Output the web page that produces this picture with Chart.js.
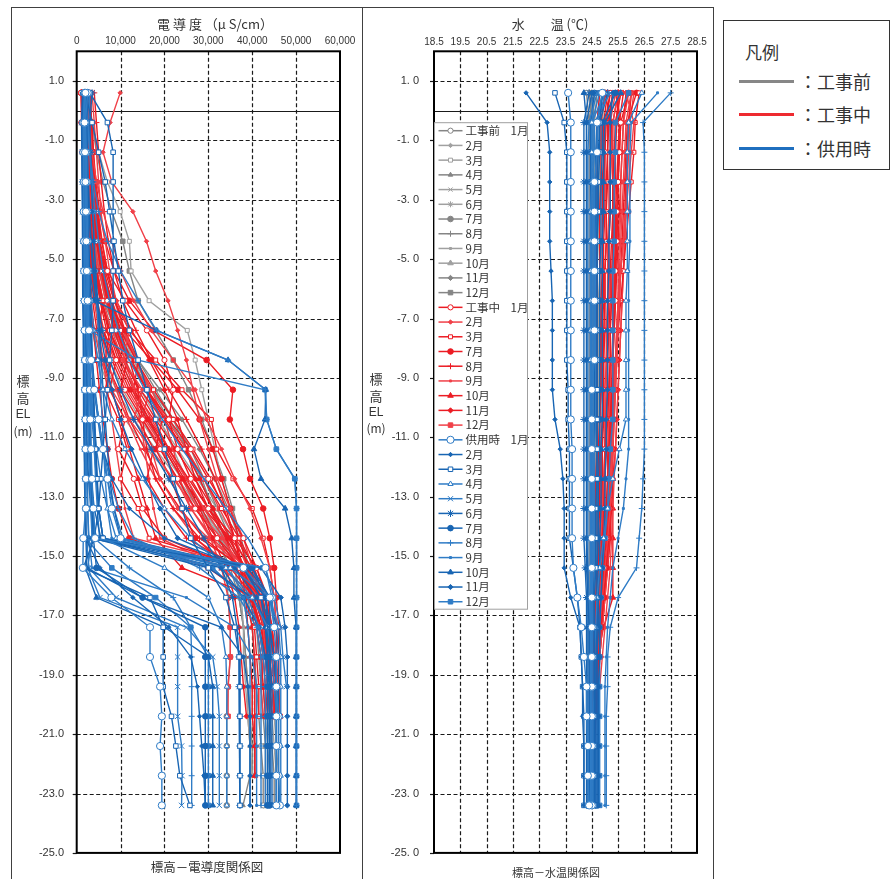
<!DOCTYPE html>
<html><head><meta charset="utf-8">
<script src="https://cdn.jsdelivr.net/npm/chart.js@4.4.1/dist/chart.umd.min.js"></script>
<style>
body{margin:0;background:#fff;width:891px;height:879px;overflow:hidden;position:relative;font-family:"Noto Sans CJK JP",sans-serif;color:#333;}
.panel{position:absolute;top:7px;height:900px;border:1px solid #404040;box-sizing:border-box;}
.t{position:absolute;white-space:nowrap;transform:translate(-50%,-50%);line-height:1;}
canvas{position:absolute;top:8px;}
.lg{position:absolute;left:723px;top:20px;width:167px;height:150px;border:1px solid #333;box-sizing:border-box;background:#fff;}
.lg .ln{position:absolute;left:15px;width:55px;height:3px;}
.lg .tx{position:absolute;left:75px;font-size:18px;transform:translateY(-50%);white-space:nowrap;line-height:1;}
</style></head>
<body>
<div class="panel" style="left:11px;width:352px"></div>
<div class="panel" style="left:362px;width:352px"></div>
<canvas id="c1" width="350" height="871" style="left:12px"></canvas>
<canvas id="c2" width="350" height="871" style="left:363px"></canvas>

<div class="t" style="left:215px;top:23px;font-size:13px;">電 導 度 （μ S/cm）</div>
<div class="t" style="left:550px;top:23px;font-size:13px;">水　　温 (℃)</div>
<div class="t" style="left:207px;top:867px;font-size:12.5px;">標高－電導度関係図</div>
<div class="t" style="left:556px;top:872px;font-size:11px;">標高－水温関係図</div>

<div class="t" style="left:23px;top:380px;font-size:13px;">標</div>
<div class="t" style="left:23px;top:397px;font-size:13px;">高</div>
<div class="t" style="left:23px;top:414px;font-size:12px;font-family:'Liberation Sans',sans-serif;">EL</div>
<div class="t" style="left:23px;top:431px;font-size:12px;">(m)</div>
<div class="t" style="left:376px;top:378px;font-size:13px;">標</div>
<div class="t" style="left:376px;top:395px;font-size:13px;">高</div>
<div class="t" style="left:376px;top:412px;font-size:12px;font-family:'Liberation Sans',sans-serif;">EL</div>
<div class="t" style="left:376px;top:428px;font-size:12px;">(m)</div>

<div class="lg">
  <div class="tx" style="left:21px;top:30px;font-size:17px;">凡例</div>
  <div class="ln" style="top:59px;background:#878787"></div><div class="tx" style="top:60px">：工事前</div>
  <div class="ln" style="top:92px;background:#ee2a30"></div><div class="tx" style="top:93px">：工事中</div>
  <div class="ln" style="top:126px;background:#1f6fbf"></div><div class="tx" style="top:127px">：供用時</div>
</div>

<script>
// ---------------- axes / categories ----------------
const ELEV = [0.6,-0.4,-1.4,-2.4,-3.4,-4.4,-5.4,-6.4,-7.4,-8.4,-9.4,-10.4,-11.4,-12.4,-13.4,-14.4,-15.4,-16.4,-17.4,-18.4,-19.4,-20.4,-21.4,-22.4,-23.4];
const ELEV_TICKS = [1,-1,-3,-5,-7,-9,-11,-13,-15,-17,-19,-21,-23,-25];
const EC_TICKS = [0,10000,20000,30000,40000,50000,60000];
const TEMP_TICKS = [18.5,19.5,20.5,21.5,22.5,23.5,24.5,25.5,26.5,27.5,28.5];
const PHASES = ['工事前','工事中','供用時'];
const MONTHS_PRE = ['1月','2月','3月','4月','5月','6月','7月','8月','9月','10月','11月','12月'];
const MONTHS_DUR = ['1月','2月','3月','7月','8月','9月','10月','11月','12月'];
const MONTHS_OPS = ['1月','2月','3月','4月','5月','6月','7月','8月','9月','10月','11月','12月'];

// ---------------- conductivity (μS/cm), one row per profile, values at ELEV ----------------
const EC_PRE = [
 [[1500,1800,2000,2300,2600,3000,3800,5500,8000,12000,17000,22000,26000,29000,32000,35000,37500,39000,40000,40500,41000,41500,42000,42500,42500]],
 [[null,1400,1600,1800,2000,2200,2500,3000,4000,6000,9000,13000,18000,23000,28000,33000,36000,37500,38000,38000,38500,39000,39500,40000]],
 [[2500,3500,5000,7000,9900,12000,12400,16500,25200,27000,28500,30000,31500,33000,35000,37000,39000,40500,41500,42500,43000,43500,44000,44000]],
 [[2000,2200,2500,2800,3200,4000,5000,7000,10000,14000,18000,22000,25000,28000,31000,34000,36000,37000,38000,38500,39000,39000,39500,39500,37900]],
 [[null,1200,1400,1600,1800,2000,2300,2800,3500,5000,7500,11000,16000,22000,28000,34000,38000,40000,41000,42000,42500,43000,43500,44000]],
 [[3000,3200,3500,4000,4500,5000,6000,7500,10000,13000,16000,19000,22000,25000,29000,33000,37000,40000,42000,43500,44500,45000,45500,46000,46300]],
 [[1800,2000,2300,2600,3000,3500,4500,6000,9000,13000,17000,21000,25000,28500,31000,33000,34000,34500,35000,35000,34500,34200,34200,34200,34200]],
 [[null,1500,1700,2000,2400,3000,4000,5500,7500,10000,13000,16000,20000,24000,28000,32000,35000,37000,38000,38500,39000,39500,40000,40000]],
 [[2200,2500,2800,3200,3700,4300,5200,6500,8500,11000,14500,18500,23000,27500,32000,36000,39000,41000,42500,43500,44000,44500,45000,45500,45500]],
 [[1500,1700,1900,2100,2400,2800,3300,4200,5500,7500,10500,14500,19000,24000,29000,33500,36500,38000,39000,39500,40000,40000,40500,40500]],
 [[2000,2300,2700,3100,3600,4200,5200,7000,10000,14000,19000,24000,28000,31500,34500,37000,39500,41000,42500,43000,43500,44000,44500,45000,45000]],
 [[2800,3500,4500,6000,8000,10500,12000,14000,18000,22000,25500,28500,31000,33500,35500,37500,39000,40000,41000,41500,42000,42500,43000,43000,43000]]
];
const EC_DUR = [
 [[1500,1800,2000,2300,2600,3000,3500,4500,6000,8000,11000,15000,19000,23000,27000,32000,37000,40000,42000,43000,43500,44000],
  [2000,2500,3000,3500,4000,4800,5800,7000,9000,12000,16000,21000,26000,30000,34000,38000,41000,43000,44000,44500,45000,45000],
  [1200,1500,1800,2200,3000,4500,7000,11000,16000,20000,22000,21000,23000,26000,30000,36000,41000,43500,44500,45000,45500,46000],
  [1000,1200,1400,1700,2100,2600,3300,4300,6000,9000,7500,11000,9500,13000,15000,20000,36000,42000,44000,45000,45500,46000]],
 [[9900,7600,6000,8000,12800,15900,18000,20800,23000,25000,26500,28000,30000,32000,35000,38000,40000,41500,42500,43000,43500,44000],
  [1200,1400,1600,1800,2000,2300,2700,3200,4000,5500,8000,12000,17000,22000,27000,33000,38000,41000,43000,44000,44500,45000],
  [2500,3000,3500,4500,6000,8000,10000,13000,17000,22000,27000,29600,33000,36000,39500,42000,44000,45000,45500,46000,46000,46300],
  [3500,4000,4500,5000,5500,6500,7500,9000,12000,10500,15000,13000,17000,19000,23000,30000,38000,41500,43000,44000,44500,45000]],
 [[3000,3300,3600,4000,4500,5200,6200,7800,10000,13500,17500,22000,26500,30500,33500,36000,38000,39500,40500,41000,41500,41500],
  [1800,2000,2200,2500,2900,3400,4200,5500,7500,10500,14500,19500,24500,29000,33000,37000,40500,42500,43500,44000,44000,44500],
  [1800,2200,2600,3200,4000,5000,6500,8500,12000,18000,24000,30700,31900,35600,40000,42500,44000,45000,45500,45500,45500,45500],
  [1400,1600,1900,2300,2800,3500,4500,6000,5000,8000,6500,9500,11500,10000,14000,16500,39000,43000,44500,45000,45500,46000]],
 [[2500,2700,3000,3400,3900,4500,5500,7000,11000,17000,23000,28000,31000,33000,35000,37000,39000,40000,41000,42000,42500,43000],
  [1000,1100,1300,1500,1700,2000,2400,3000,3800,4500,5200,6000,7000,8000,9500,12000,30000,39500,42000,43500,44500,45500],
  [3000,3400,3800,4400,5200,6500,8500,12000,17500,29600,35600,34900,37900,39500,42500,44000,45000,45500,46000,46000,46000,46000],
  [2200,2600,3000,3500,4200,5000,6000,7500,9500,12500,16000,19500,18000,21500,24000,27000,35000,40500,42500,44000,44500,45000]],
 [[4000,4500,5000,5600,6300,7200,8500,10500,13500,17000,21000,25000,28500,31500,34000,36000,37500,38500,39000,39500,40000,40000,40600,40600],
  [1600,1900,2200,2600,3000,3600,4400,5600,7200,9500,12500,16500,21000,25500,30000,34500,38500,41500,43500,45000,45500,46000],
  [1500,1700,2000,2500,3200,4500,6000,8000,10000,12000,14000,15000,16000,18000,22000,28000,38000,42000,43500,44500,45000,45500],
  [1800,2100,2500,3000,3700,4600,5800,7300,9200,11500,10000,14000,17500,16000,20000,25000,37000,42000,44000,45000,45500,45500]],
 [[2200,2400,2700,3000,3400,3900,4700,6000,8000,10500,13500,17000,21000,25000,29000,33500,37000,40000,42000,43000,43500,44000],
  [1300,1500,1700,2000,2300,2700,3200,4000,5000,6000,7000,8000,9000,10000,11000,13000,40000,42000,42500,42500,42000,42500],
  [2000,2300,2700,3200,3800,4500,5500,7000,9000,11000,13000,14500,15500,16500,17500,19000,33000,41000,43000,44000,44500,45000],
  [1100,1300,1600,1900,2300,2800,3500,4400,5500,7000,9000,11500,14500,18000,22000,27000,36000,41000,43000,44000,44500,45000]],
 [[1100,1300,1500,1700,2000,2400,2900,3600,4600,6000,8000,10000,12000,14000,16000,18000,24000,41000,43500,44500,45000,45500],
  [1000,3500,3800,4200,4700,5300,6000,7000,8500,12000,16000,20000,24500,28000,31000,34000,36500,38500,40000,40500,40600,40600,40600,40600],
  [1200,1400,1700,2000,2500,3200,4200,5500,7500,10000,13000,16500,20000,24000,29000,35000,40000,42000,43000,43500,44000,44500],
  [2600,3000,3500,4100,4800,5700,7000,8800,11000,14000,13000,17500,21000,25000,28500,32000,38500,42000,43500,44500,45000,45500]],
 [[2800,3000,3300,3700,4200,4800,5700,6900,8500,11000,14000,18000,22500,27000,31000,35000,38000,40000,41500,42500,43000,43500],
  [1700,2000,2300,2700,3100,3600,4300,5300,6800,9000,12000,16000,20500,24500,28000,31000,34000,36000,37000,37500,38000,38700],
  [2400,2700,3100,3600,4300,5300,6800,9000,12500,16500,20000,23000,25000,27000,30000,34000,38000,41000,42500,43500,44000,44500],
  [1500,1800,2100,2500,3000,3700,4600,5800,7500,6500,9500,12000,15500,19000,23500,29000,37500,42000,44000,45000,45500,46000]],
 [[2000,2200,2500,2900,3400,4100,5100,6600,8800,12000,16000,20500,25000,29000,32500,36000,39000,41500,43000,44500,45500,46300],
  [1400,1600,1800,2100,2500,3000,3700,4700,6200,8500,11500,15500,20000,24000,27500,30500,33000,34500,35000,35000,34500,34500],
  [1600,1900,2300,2800,3500,4500,6000,8000,10500,13500,17000,20000,22000,23500,26000,31000,37000,41000,43500,45000,46000,46300],
  [3000,3300,3700,4200,4900,5800,7000,8600,10800,13500,16500,15000,19500,22500,26000,30500,39000,43000,44500,45500,46000,46300]]
];
const EC_OPS = [
 [[1800,1500,1500,1600,1600,1700,1700,1800,1800,1900,1900,2000,2000,2100,2100,1500,1400,7900,16700,16700,19000,19400,19000,19400,19400],
  [2500,2000,2200,2300,2400,2500,2600,2700,2800,2900,3000,3100,3300,3500,3800,4200,43000,44500,45000,45500,45500,46000,46000,46000,46300],
  [2000,1800,1900,2000,2100,2200,2300,2500,2800,3300,4000,5000,6000,7000,8000,10000,38000,44000,45000,45500,45500,45500,45500,45500,45500]],
 [[2200,1800,1900,2000,2100,2200,2400,2600,3000,3500,4000,5000,6000,8000,12000,20000,38000,43000,44000,44000,44000,44000,44000,44000,44000],
  [1500,1200,1300,1300,1400,1400,1500,1500,1600,1600,1700,1700,1800,1800,1900,2000,5300,12800,21000,26000,27500,28000,28500,29000,29300],
  [1300,1100,1200,1200,1300,1300,1400,1400,1500,1500,1600,1600,1700,1800,1900,2100,2300,15000,33000,38000,39000,39500,39500,39500,39500]],
 [[3000,7000,8300,8300,8300,8300,8300,8300,8000,7500,7000,6500,6000,5500,5000,4000,1500,16700,19700,19700,19700,21600,22600,23500,25800],
  [2000,3500,5000,6500,7500,8500,9500,10500,12000,14000,16000,18000,20000,22000,24000,26000,30000,34000,36000,37000,37200,37200,37200,37200,37200],
  [2500,2200,2300,2400,2500,2700,3000,3200,3400,3600,3800,4000,4300,4600,5000,6000,38000,42000,44000,45000,45500,45500,45500,45500,45500]],
 [[1600,1400,1500,1500,1600,1700,1800,2000,2200,2500,3000,3500,4000,4500,5000,6000,20000,30000,33000,34000,34200,34200,34200,34200,34200],
  [2400,2000,2100,2200,2400,2600,2900,3300,3900,4800,6000,8000,11000,15000,20000,26000,34000,40000,43500,44500,45000,45500,45500,45500,45500],
  [1900,1700,1800,1900,2000,2100,2200,2400,2600,2900,3300,3800,4500,5500,7000,9000,35000,44000,46000,46500,46500,46500,46500,46500,46500]],
 [[2000,1700,1800,1900,2000,2100,2200,2300,2400,2500,2600,2700,2800,3000,3200,3500,2500,5300,23000,23000,23000,23000,23900,24000,23900],
  [1800,2500,3000,3500,4200,5000,6000,7500,9500,12000,15500,19500,24000,29000,34000,39000,43000,45000,46500,47000,47800],
  [1400,1200,1300,1300,1400,1400,1500,1500,1600,1600,1700,1700,1800,1900,2000,2200,2800,9000,25000,31000,32000,32500,32500,32500,32500]],
 [[1500,1300,1400,1500,1600,1700,1800,1900,2000,2200,2400,2600,2800,3000,3300,3600,30000,40000,44000,45000,45500,46000,46000,46000,46000],
  [2600,2200,2400,2600,2900,3300,3900,4700,5800,7500,10000,13000,17000,21000,25000,29000,33000,35500,36500,37000,37000,37200,37200,37200,37200],
  [3500,3000,3200,3400,3600,3900,4300,4800,5200,5600,6000,6500,7000,7500,8500,10000,39000,44000,45500,46000,46000,46000,46000,46000,46000]],
 [[2000,1600,1700,1800,1900,2000,2100,2200,2300,2400,2500,2700,2900,3100,3400,3800,4500,15000,29300,29300,29300,29300,29300,29300,29300],
  [1600,1500,1600,1800,2000,2300,2600,2900,3200,3500,3800,4100,4400,4700,5000,6000,40000,44000,44000,44000,44000,44000,44000,44000,44000],
  [1700,1500,1500,1600,1600,1700,1700,1800,1900,2000,2100,2200,2400,2700,3200,4500,40000,43000,43500,43500,43500,43500,43500,43500,43500]],
 [[1800,1400,1500,1600,1700,1800,1900,2000,2100,2300,2500,2700,3000,3300,3600,4000,12000,22000,26000,26200,26200,26200,26200,26200,26200],
  [2200,2500,3000,3800,5000,7000,10000,14000,18200,34500,43000,43300,45500,49700,50100,50100,50100,50100,50100,50100,50100,50100,50100,50100,50100],
  [2100,1900,2000,2100,2200,2300,2500,2700,3000,3500,4200,5000,6000,7500,9500,13000,28000,37000,41000,42000,42000,42000,42000,42000,42000]],
 [[1700,1500,1600,1700,1800,2000,2200,2500,2900,3400,4000,4800,5800,7000,8500,10500,31000,38000,39000,39500,39500,39500,39500,39500,39500],
  [3000,2800,3000,3300,3700,4000,4300,4600,4900,5200,5500,5800,6100,6500,7000,8000,34000,39000,41500,42500,43000,43000,43000,43000,43000],
  [1600,1300,1400,1400,1500,1500,1600,1700,1800,1900,2000,2100,2200,2300,2500,2800,3500,25000,36000,40000,41000,41000,41000,41000,41000]],
 [[2200,1800,1900,2000,2200,2500,3000,4000,18200,34500,43100,42900,40400,42000,47500,49000,49500,49500,50000,50000,50000,50000,50000,50000,50000],
  [1500,1300,1400,1500,1500,1600,1700,1800,1900,2000,2100,2200,2300,2400,2500,2700,2000,4500,20000,30000,31000,31000,31000,31000,31000],
  [2400,2100,2200,2300,2400,2500,2600,2700,2800,2900,3000,3100,3200,3400,3700,4200,36000,41000,43000,44000,44500,44500,44500,44500,44500]],
 [[1900,1600,1700,1800,1900,2000,2100,2200,2300,2400,2500,2600,2800,3000,3300,3800,33000,38000,41500,43000,44000,44000,44000,44000,44000],
  [2300,2100,2300,2500,2800,3200,3700,4400,5300,6500,8000,10000,12500,15500,19000,23000,38000,42000,43000,43500,43500,43500,43500,43500,43500],
  [1800,1500,1600,1600,1700,1800,1900,2000,2100,2200,2400,2600,2900,3300,4000,5500,42000,46500,47500,48000,48000,48000,48000,48000,48000]],
 [[2000,1700,1800,1900,2000,2100,2300,2500,3000,14000,42900,43300,45500,49700,50100,50100,50100,50100,50100,50100,50100,50100,50100,50100,50100],
  [1600,1400,1400,1500,1500,1600,1600,1700,1700,1800,1800,1900,1900,2000,2000,2100,8000,18000,26000,30000,30000,30000,30000,30000,30000],
  [2700,2400,2500,2600,2700,2800,2900,3000,3200,3400,3600,3800,4000,4300,4700,5200,31000,38000,41500,43000,43500,43500,43500,43500,43500]]
];

// ---------------- water temperature (°C), values at ELEV ----------------
const TEMP_PRE = [
 [[24.3,24.4,24.45,24.45,24.5,24.5,24.5,24.5,24.5,24.5,24.5,24.5,24.5,24.5,24.5,24.5,24.5,24.5,24.5,24.5,24.5,24.5,24.5,24.5,24.5]],
 [[null,24.6,24.6,24.6,24.6,24.6,24.6,24.6,24.6,24.6,24.6,24.6,24.6,24.6,24.6,24.6,24.6,24.6,24.6,24.6,24.6,24.6,24.6,24.6]],
 [[24.8,24.7,24.7,24.7,24.7,24.7,24.7,24.65,24.65,24.65,24.65,24.65,24.65,24.6,24.6,24.6,24.6,24.6,24.55,24.55,24.55,24.55,24.55,24.55]],
 [[24.5,24.4,24.4,24.4,24.4,24.4,24.4,24.4,24.4,24.4,24.4,24.4,24.4,24.4,24.4,24.4,24.4,24.4,24.4,24.4,24.45,24.45,24.45,24.45,24.45]],
 [[null,24.8,24.8,24.75,24.75,24.75,24.7,24.7,24.7,24.7,24.7,24.7,24.7,24.7,24.65,24.65,24.65,24.6,24.6,24.6,24.6,24.6,24.6,24.6]],
 [[25.0,24.9,24.85,24.85,24.8,24.8,24.8,24.8,24.8,24.75,24.75,24.75,24.75,24.7,24.7,24.7,24.7,24.65,24.65,24.65,24.6,24.6,24.6,24.6,24.6]],
 [[24.4,24.5,24.55,24.55,24.55,24.55,24.55,24.55,24.55,24.55,24.55,24.55,24.55,24.55,24.55,24.55,24.55,24.55,24.55,24.55,24.55,24.55,24.5,24.5,24.5]],
 [[null,24.7,24.7,24.7,24.7,24.7,24.7,24.7,24.7,24.7,24.65,24.65,24.65,24.65,24.65,24.6,24.6,24.6,24.6,24.6,24.6,24.55,24.55,24.55]],
 [[24.9,24.8,24.8,24.8,24.8,24.8,24.8,24.75,24.75,24.75,24.75,24.7,24.7,24.7,24.7,24.7,24.65,24.65,24.65,24.6,24.6,24.6,24.6,24.6,24.6]],
 [[24.5,24.5,24.5,24.5,24.5,24.5,24.5,24.5,24.5,24.5,24.5,24.5,24.5,24.5,24.5,24.5,24.5,24.5,24.5,24.5,24.5,24.5,24.5,24.5]],
 [[24.7,24.6,24.6,24.6,24.6,24.6,24.6,24.6,24.6,24.6,24.6,24.6,24.6,24.6,24.6,24.6,24.6,24.55,24.55,24.55,24.55,24.5,24.5,24.5,24.47]],
 [[24.6,24.55,24.55,24.55,24.55,24.55,24.55,24.55,24.55,24.55,24.55,24.55,24.55,24.55,24.55,24.55,24.55,24.55,24.55,24.55,24.55,24.55,24.55,24.55,24.55]]
];
const TEMP_DUR = [
 [[25.6,25.4,25.35,25.3,25.3,25.25,25.2,25.2,25.15,25.1,25.1,25.05,25.0,25.0,24.95,24.9,24.8,24.7,24.65,24.6,24.6,24.6],
  [25.2,25.0,25.0,24.95,24.95,24.9,24.9,24.9,24.85,24.85,24.85,24.8,24.8,24.8,24.75,24.75,24.7,24.65,24.6,24.6,24.55,24.55],
  [25.4,25.6,25.55,25.5,25.45,25.45,25.4,25.4,25.35,25.3,25.3,25.25,25.2,25.15,25.1,25.05,24.95,24.85,24.75,24.7,24.65,24.6]],
 [[26.0,25.8,25.75,25.7,25.65,25.6,25.55,25.5,25.45,25.4,25.35,25.3,25.25,25.2,25.1,25.0,24.9,24.8,24.7,24.65,24.6,24.6],
  [25.5,25.3,25.25,25.2,25.2,25.15,25.15,25.1,25.1,25.05,25.05,25.0,25.0,24.95,24.9,24.85,24.8,24.75,24.7,24.65,24.6,24.6],
  [25.8,26.1,26.0,25.9,25.8,25.7,25.6,25.55,25.5,25.45,25.4,25.35,25.3,25.25,25.2,25.1,25.0,24.9,24.8,24.7,24.65,24.6]],
 [[26.3,26.15,26.1,26.0,25.9,25.8,25.7,25.6,25.5,25.4,25.3,25.25,25.2,25.2,25.15,25.1,25.0,24.9,24.8,24.7,24.65,24.6],
  [24.8,24.7,24.7,24.7,24.7,24.7,24.7,24.7,24.7,24.7,24.7,24.7,24.7,24.65,24.65,24.65,24.6,24.6,24.6,24.55,24.55,24.55],
  [25.3,25.15,25.1,25.1,25.05,25.05,25.0,25.0,24.95,24.95,24.95,24.9,24.9,24.9,24.85,24.85,24.8,24.75,24.7,24.65,24.6,24.6]],
 [[25.9,25.6,25.55,25.5,25.5,25.45,25.4,25.35,25.3,25.3,25.25,25.2,25.15,25.1,25.05,25.0,24.95,24.9,24.8,24.75,24.7,24.65],
  [25.1,24.95,24.95,24.9,24.9,24.9,24.9,24.85,24.85,24.85,24.85,24.8,24.8,24.8,24.8,24.75,24.75,24.7,24.7,24.65,24.65,24.6],
  [26.2,25.85,25.8,25.75,25.7,25.65,25.6,25.55,25.5,25.45,25.4,25.35,25.3,25.25,25.2,25.15,25.05,24.95,24.85,24.75,24.7,24.65]],
 [[25.7,25.55,25.5,25.45,25.4,25.4,25.35,25.35,25.3,25.3,25.25,25.25,25.2,25.2,25.15,25.1,25.05,24.95,24.85,24.75,24.7,24.65,24.6,24.6],
  [25.3,25.1,25.1,25.05,25.05,25.05,25.0,25.0,25.0,24.95,24.95,24.95,24.9,24.9,24.9,24.85,24.85,24.8,24.75,24.7,24.65,24.6],
  [25.0,25.25,25.25,25.2,25.2,25.15,25.15,25.15,25.1,25.1,25.1,25.05,25.05,25.0,25.0,24.95,24.9,24.85,24.8,24.75,24.7,24.65]],
 [[26.1,25.95,25.9,25.85,25.8,25.75,25.7,25.65,25.6,25.55,25.5,25.45,25.4,25.35,25.3,25.25,25.2,25.1,25.0,24.9,24.8,24.7],
  [25.4,25.2,25.2,25.15,25.15,25.1,25.1,25.1,25.05,25.05,25.0,25.0,25.0,24.95,24.95,24.9,24.9,24.85,24.8,24.75,24.7,24.65],
  [25.9,25.7,25.65,25.6,25.6,25.55,25.5,25.5,25.45,25.4,25.35,25.3,25.3,25.25,25.2,25.15,25.1,25.0,24.9,24.8,24.7,24.65]],
 [[25.5,25.3,25.3,25.3,25.3,25.3,25.3,25.3,25.3,25.3,25.3,25.3,25.3,25.3,25.3,25.3,25.3,25.3,24.95,24.7,24.6,24.55,24.5,24.5],
  [25.0,24.85,24.85,24.85,24.8,24.8,24.8,24.8,24.8,24.8,24.8,24.8,24.75,24.75,24.75,24.75,24.7,24.7,24.65,24.65,24.6,24.6],
  [25.5,25.45,25.4,25.4,25.35,25.35,25.3,25.25,25.2,25.2,25.15,25.1,25.05,25.2,25.2,25.2,25.1,24.95,24.8,24.7,24.65,24.6]],
 [[25.8,25.7,25.65,25.6,25.55,25.5,25.45,25.4,25.35,25.3,25.3,25.25,25.25,25.2,25.2,25.2,25.1,25.0,24.9,24.8,24.7,24.65],
  [25.2,25.05,25.0,25.0,25.0,24.95,24.95,24.95,24.9,24.9,24.9,24.9,24.85,24.85,24.85,24.8,24.8,24.75,24.7,24.7,24.65,24.6],
  [26.0,25.9,25.85,25.8,25.8,25.75,25.7,25.65,25.6,25.55,25.5,25.45,25.4,25.3,25.25,25.2,25.1,25.0,24.9,24.8,24.75,24.7]],
 [[26.0,25.9,25.85,25.8,25.75,25.7,25.6,25.5,25.45,25.4,25.35,25.3,25.25,25.2,25.15,25.1,25.05,25.0,24.9,24.8,24.75,24.7],
  [25.6,25.4,25.4,25.35,25.3,25.3,25.25,25.25,25.2,25.2,25.15,25.15,25.1,25.1,25.05,25.0,24.95,24.9,24.85,24.75,24.7,24.65],
  [25.5,25.55,25.5,25.5,25.45,25.4,25.4,25.35,25.3,25.25,25.2,25.2,25.15,25.1,25.05,25.0,24.95,24.9,24.8,24.75,24.7,24.65]]
];
const TEMP_OPS = [
 [[24.9,24.7,24.7,24.6,24.6,24.6,24.6,24.6,24.6,24.6,24.5,24.5,24.5,24.5,24.5,24.5,24.5,24.5,24.5,24.5,24.5,24.5,24.5,24.5,24.5],
  [23.6,23.7,23.7,23.7,23.7,23.7,23.7,23.7,23.7,23.7,23.7,23.7,23.75,23.75,23.75,23.75,23.8,23.95,24.1,24.2,24.3,24.3,24.35,24.35,24.4]],
 [[22.0,22.8,22.9,22.9,22.9,22.9,22.95,23.0,23.0,23.0,23.0,23.1,23.3,23.4,23.45,23.45,23.45,23.7,24.05,24.1,24.15,24.15,24.2,24.2,24.2],
  [24.5,24.3,24.3,24.3,24.3,24.3,24.3,24.3,24.3,24.3,24.3,24.3,24.3,24.3,24.3,24.3,24.35,24.35,24.4,24.4,24.4,24.4,24.4,24.4,24.4]],
 [[23.1,23.45,23.55,23.55,23.55,23.55,23.55,23.55,23.55,23.55,23.6,23.6,23.65,23.65,23.65,23.65,23.8,23.95,24.05,24.1,24.15,24.2,24.2,24.2,24.2],
  [24.9,24.8,24.8,24.75,24.75,24.7,24.7,24.7,24.7,24.7,24.7,24.7,24.7,24.7,24.65,24.65,24.65,24.6,24.6,24.6,24.6,24.6,24.6,24.6,24.6]],
 [[25.0,24.5,24.5,24.5,24.45,24.45,24.45,24.45,24.45,24.45,24.45,24.45,24.45,24.45,24.45,24.45,24.45,24.45,24.45,24.45,24.45,24.45,24.45,24.45,24.45],
  [26.4,25.9,25.85,25.85,25.85,25.85,25.85,25.8,25.8,25.8,25.8,25.8,25.55,25.3,25.1,24.95,24.8,24.7,24.65,24.6,24.6,24.55,24.55,24.55,24.55]],
 [[25.2,24.6,24.6,24.55,24.55,24.5,24.5,24.5,24.5,24.5,24.5,24.5,24.5,24.5,24.5,24.5,24.5,24.5,24.5,24.5,24.45,24.45,24.45,24.45,24.45],
  [24.7,24.4,24.35,24.35,24.35,24.35,24.35,24.35,24.35,24.35,24.35,24.35,24.35,24.35,24.35,24.35,24.35,24.4,24.4,24.4,24.4,24.4,24.4,24.4,24.4]],
 [[25.1,24.8,24.75,24.7,24.7,24.7,24.7,24.7,24.7,24.7,24.7,24.7,24.7,24.7,24.7,24.7,24.7,24.7,24.7,24.65,24.65,24.65,24.65,24.65,24.65],
  [24.4,24.2,24.2,24.2,24.2,24.2,24.2,24.2,24.2,24.2,24.2,24.2,24.2,24.2,24.2,24.2,24.25,24.3,24.3,24.3,24.3,24.3,24.3,24.3,24.3]],
 [[25.4,24.9,24.9,24.85,24.85,24.85,24.8,24.8,24.8,24.8,24.8,24.8,24.8,24.75,24.75,24.75,24.7,24.7,24.7,24.7,24.7,24.7,24.7,24.7,24.7],
  [24.6,24.45,24.45,24.45,24.45,24.45,24.45,24.45,24.45,24.45,24.45,24.45,24.45,24.45,24.45,24.45,24.45,24.45,24.45,24.45,24.45,24.45,24.45,24.45,24.45]],
 [[27.5,26.45,26.5,26.5,26.5,26.5,26.5,26.5,26.5,26.5,26.5,26.5,26.5,26.45,26.4,26.3,26.2,25.5,25.2,25.1,25.1,25.05,25.05,25.05,25.05],
  [25.0,24.75,24.7,24.7,24.7,24.65,24.65,24.65,24.65,24.65,24.65,24.65,24.6,24.6,24.6,24.6,24.6,24.6,24.6,24.6,24.6,24.6,24.6,24.6,24.6]],
 [[27.0,26.0,25.95,25.95,25.95,25.95,25.9,25.9,25.9,25.9,25.9,25.9,25.9,25.8,25.7,25.5,25.3,25.2,25.1,25.05,25.0,25.0,25.0,25.0,25.0],
  [24.5,24.55,24.55,24.55,24.55,24.55,24.55,24.55,24.55,24.55,24.55,24.55,24.55,24.55,24.55,24.55,24.55,24.5,24.5,24.5,24.5,24.5,24.5,24.5,24.5]],
 [[25.6,25.0,24.95,24.95,24.95,24.9,24.9,24.9,24.9,24.9,24.9,24.9,24.85,24.85,24.85,24.8,24.8,24.75,24.75,24.7,24.7,24.7,24.7,24.7,24.7],
  [24.2,24.3,24.3,24.3,24.3,24.3,24.3,24.3,24.3,24.3,24.3,24.3,24.3,24.3,24.3,24.3,24.3,24.35,24.35,24.35,24.35,24.35,24.35,24.35,24.35]],
 [[24.9,24.7,24.65,24.65,24.65,24.65,24.6,24.6,24.6,24.6,24.6,24.6,24.6,24.6,24.6,24.6,24.6,24.55,24.55,24.55,24.55,24.55,24.55,24.55,24.55],
  [25.3,25.2,25.2,25.2,25.2,25.15,25.15,25.1,25.1,25.1,25.1,25.05,25.05,25.0,25.0,24.95,24.9,24.85,24.8,24.8,24.75,24.75,24.75,24.75,24.75]],
 [[24.8,24.5,24.5,24.5,24.5,24.5,24.5,24.5,24.5,24.5,24.5,24.5,24.5,24.5,24.5,24.5,24.5,24.5,24.5,24.5,24.5,24.5,24.5,24.5,24.5],
  [25.9,25.4,25.4,25.35,25.35,25.35,25.3,25.3,25.3,25.3,25.3,25.3,25.2,25.15,25.1,25.0,24.9,24.85,24.8,24.8,24.8,24.8,24.8,24.8,24.8]]
];

// ---------------- styles ----------------
const FONT = "'Liberation Sans', Arial, sans-serif";
const MARK = {
 '1月':{ps:'circle',r:2.6,open:true}, '2月':{ps:'rectRot',r:2.2}, '3月':{ps:'rect',r:2.8,open:true},
 '4月':{ps:'triangle',r:2.6}, '5月':{ps:'crossRot',r:3}, '6月':{ps:'star',r:3}, '7月':{ps:'circle',r:2.8},
 '8月':{ps:'cross',r:3}, '9月':{ps:'rect',r:1.4}, '10月':{ps:'triangle',r:3.2}, '11月':{ps:'rectRot',r:2.6}, '12月':{ps:'rect',r:3.2}
};
const OPS_MARK = {'1月':{r:3.6},'3月':{r:3.2},'4月':{open:true,r:3},'5月':{r:3.8},'6月':{r:3.6}};
const PHASE_STYLE = [
 {dark:'#858585', light:'#a0a0a0', lightMonths:['2月','3月','5月','6月','9月','10月'], order:3},
 {dark:'#ec1c24', light:'#f04048', lightMonths:['2月','9月','12月'], order:2},
 {dark:'#1865b3', light:'#2f7cc6', lightMonths:['1月','4月','5月','8月','9月','12月'], order:1}
];

function makeSets(phase, months, byMonth){
  const P = PHASE_STYLE[phase];
  return months.map((m,i)=>{
    const st = Object.assign({}, MARK[m], phase===2 ? (OPS_MARK[m]||{}) : {});
    const col = P.lightMonths.includes(m) ? P.light : P.dark;
    const pts = [];
    byMonth[i].forEach((prof,k)=>{
      if(k) pts.push({x:null,y:null});
      prof.forEach((v,j)=>{ if(v!==null && j<ELEV.length) pts.push({x:v,y:ELEV[j]}); });
    });
    return {label:(i===0?PHASES[phase]+'\t':'')+m, data:pts, showLine:true, spanGaps:false,
      borderColor:col, backgroundColor:col, borderWidth:1.4,
      pointStyle:st.ps, pointRadius:st.r, pointBorderWidth:1, pointBorderColor:col,
      pointBackgroundColor: st.open?'#fff':col, order:P.order};
  });
}

const gridPlugin = {
  id:'gridDraw',
  beforeDatasetsDraw(c){
    const {ctx, chartArea:a, scales:{x,y}} = c;
    ctx.save();
    ctx.strokeStyle='#1a1a1a'; ctx.lineWidth=1.2; ctx.setLineDash([4,2.5]);
    const ln=(x1,y1,x2,y2)=>{ctx.beginPath();ctx.moveTo(x1,y1);ctx.lineTo(x2,y2);ctx.stroke();};
    x.ticks.forEach(t=>{const p=Math.round(x.getPixelForValue(t.value))+0.5; if(p>a.left+2&&p<a.right-2) ln(p,a.top,p,a.bottom);});
    y.ticks.forEach(t=>{const p=Math.round(y.getPixelForValue(t.value))+0.5; if(p>a.top+2&&p<a.bottom-2) ln(a.left,p,a.right,p);});
    ctx.setLineDash([]); ctx.lineWidth=1.2;
    const z=Math.round(y.getPixelForValue(0))+0.5; ln(a.left,z,a.right,z);
    y.ticks.forEach(t=>{const p=Math.round(y.getPixelForValue(t.value))+0.5; ln(a.left-4,p,a.left,p);});
    ctx.restore();
  },
  afterDatasetsDraw(c){
    const {ctx, chartArea:a} = c;
    ctx.save(); ctx.strokeStyle='#000'; ctx.lineWidth=2;
    ctx.strokeRect(a.left,a.top,a.right-a.left,a.bottom-a.top);
    ctx.restore();
  }
};

const innerLegend = {
  id:'innerLegend',
  afterDraw(c){
    if(!c.options.plugins.innerLegend || !c.options.plugins.innerLegend.show) return;
    const {ctx, chartArea:a} = c;
    const x0=a.left+0.5, y0=a.top+71.4, w=93, h=486.5;
    ctx.save();
    ctx.fillStyle='#fff'; ctx.fillRect(x0,y0,w,h);
    ctx.strokeStyle='#a0a0a0'; ctx.lineWidth=1; ctx.strokeRect(x0,y0,w,h);
    c.data.datasets.forEach((ds,i)=>{
      const yy = y0+8+i*14.72;
      ctx.setLineDash([]);
      ctx.strokeStyle=ds.borderColor; ctx.lineWidth=1.5;
      ctx.beginPath(); ctx.moveTo(x0+4,yy); ctx.lineTo(x0+28,yy); ctx.stroke();
      ctx.fillStyle=ds.pointBackgroundColor; ctx.strokeStyle=ds.pointBorderColor; ctx.lineWidth=1;
      if(Chart.helpers && Chart.helpers.drawPoint){
        Chart.helpers.drawPoint(ctx,{pointStyle:ds.pointStyle,radius:Math.min(ds.pointRadius,3.6),borderWidth:1,rotation:0},x0+16,yy);
      }
      ctx.fillStyle='#333'; ctx.font="11.5px 'Noto Sans CJK JP'"; ctx.textBaseline='middle'; ctx.textAlign='left';
      const parts = ds.label.split('\t');
      if(parts.length>1){ ctx.fillText(parts[0],x0+31,yy); ctx.fillText(parts[1],x0+76,yy); }
      else ctx.fillText(parts[0],x0+31,yy);
    });
    ctx.restore();
  }
};

function fmtComma(v){ return String(v).replace(/\B(?=(\d{3})+(?!\d))/g, ','); }

function makeChart(id, datasets, xCfg, yLabelFmt, geom, legendOn){
  return new Chart(document.getElementById(id), {
    type:'scatter',
    data:{datasets},
    options:{
      responsive:false, animation:false, devicePixelRatio:1, events:[],
      layout:{padding:{left:0,top:0,right:geom.right,bottom:geom.bottom}},
      plugins:{legend:{display:false}, tooltip:{enabled:false}, innerLegend:{show:legendOn}},
      scales:{
        x:{type:'linear', position:'top', min:xCfg.min, max:xCfg.max,
          afterBuildTicks:s=>{s.ticks = xCfg.ticks.map(v=>({value:v}));},
          afterFit:s=>{s.height = geom.top;},
          ticks:{autoSkip:false, maxRotation:0, padding:geom.xpad, color:'#333', font:{family:FONT,size:10}, callback:xCfg.fmt},
          grid:{display:false, drawTicks:false}, border:{display:false}},
        y:{type:'linear', min:-25, max:2,
          afterBuildTicks:s=>{s.ticks = ELEV_TICKS.map(v=>({value:v}));},
          afterFit:s=>{s.width = geom.left;},
          ticks:{autoSkip:false, padding:geom.ypad, color:'#333', font:{family:FONT,size:11}, callback:yLabelFmt},
          grid:{display:false, drawTicks:false}, border:{display:false}}
      }
    },
    plugins:[gridPlugin, innerLegend]
  });
}

const ecSets = [].concat(makeSets(0,MONTHS_PRE,EC_PRE), makeSets(1,MONTHS_DUR,EC_DUR), makeSets(2,MONTHS_OPS,EC_OPS));
const tSets = [].concat(makeSets(0,MONTHS_PRE,TEMP_PRE), makeSets(1,MONTHS_DUR,TEMP_DUR), makeSets(2,MONTHS_OPS,TEMP_OPS));

makeChart('c1', ecSets, {min:0,max:60000,ticks:EC_TICKS,fmt:v=>fmtComma(v)}, v=>v.toFixed(1),
  {left:64.7, top:43.3, right:22, bottom:26.1, xpad:4, ypad:12.7}, false);
makeChart('c2', tSets, {min:18.5,max:28.5,ticks:TEMP_TICKS,fmt:v=>v.toFixed(1)}, v=>v.toFixed(1).replace('.', '. '),
  {left:71, top:43.3, right:16, bottom:26.1, xpad:3.5, ypad:15}, true);
</script>
</body></html>
